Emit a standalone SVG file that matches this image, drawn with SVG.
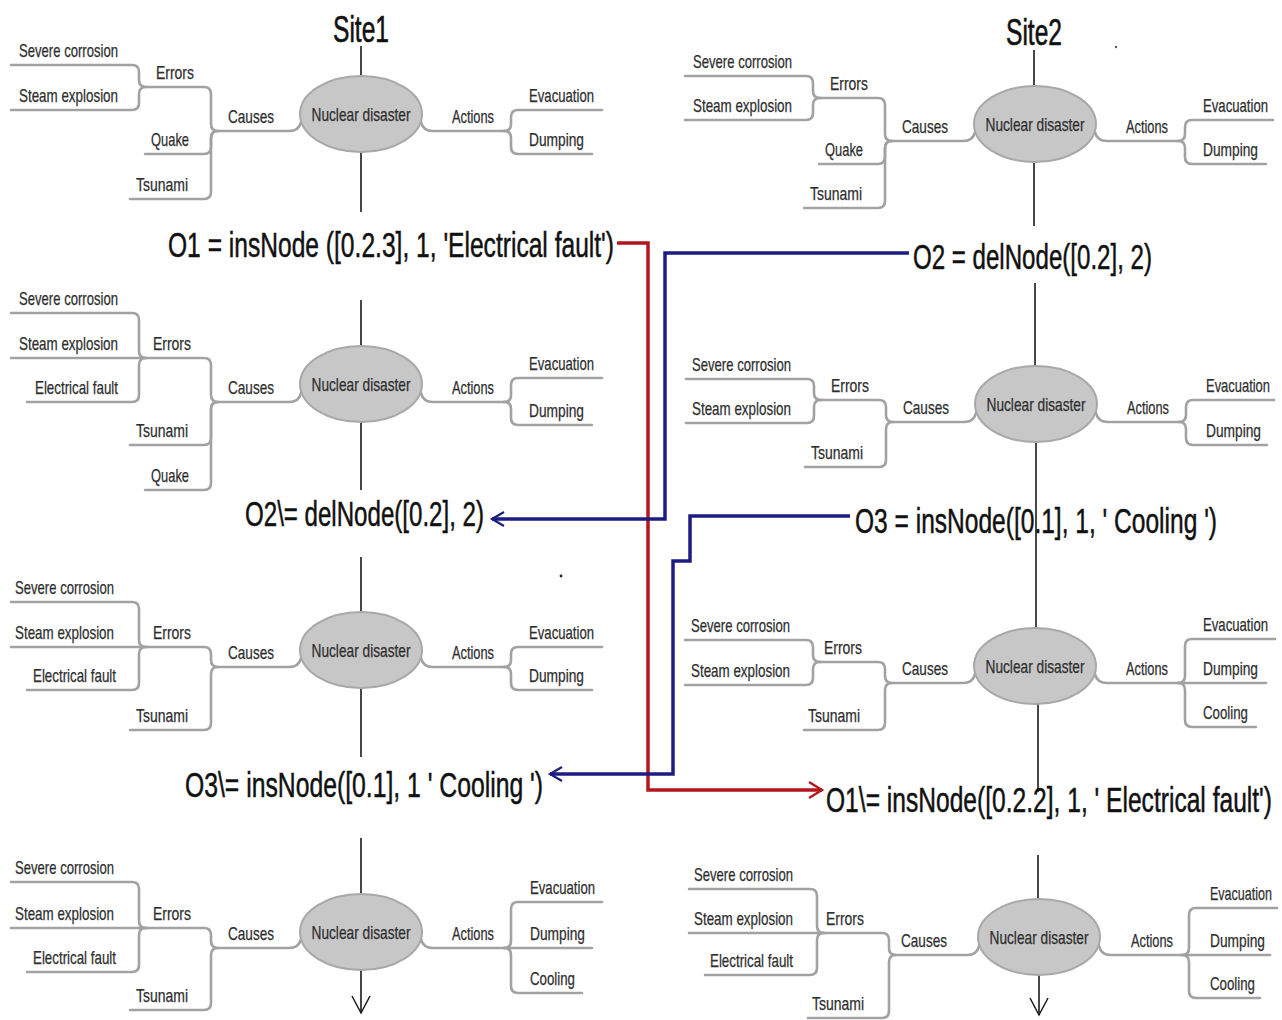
<svg xmlns="http://www.w3.org/2000/svg" width="1282" height="1020" viewBox="0 0 1282 1020">
  <style>
    .lbl { font-family: "Liberation Sans", Arial, sans-serif; font-size: 19px; fill: #2e2e2e; stroke: #2e2e2e; stroke-width: 0.25; }
    .mid { text-anchor: middle; }
    .end { text-anchor: end; }
    .br { fill: none; stroke: #a2a2a2; stroke-width: 2.6; stroke-linecap: round; stroke-linejoin: round; }
    .core { fill: #c7c7c7; stroke: #a8a8a8; stroke-width: 2; }
    .op { font-family: "Liberation Sans", Arial, sans-serif; font-size: 35px; fill: #111; stroke: #111; stroke-width: 0.5; }
    .site { font-family: "Liberation Sans", Arial, sans-serif; font-size: 37px; fill: #111; stroke: #111; stroke-width: 0.6; text-anchor: middle; }
    .stem { stroke: #1a1a1a; stroke-width: 1.6; fill: none; }
    .red { stroke: #b3171c; stroke-width: 3.5; fill: none; }
    .blue { stroke: #1c1c82; stroke-width: 3.5; fill: none; }
  </style>
  <defs>
    <marker id="headBlue" markerUnits="userSpaceOnUse" markerWidth="16" markerHeight="16" refX="12" refY="7" orient="auto" overflow="visible">
      <path d="M0,0 L12,7 L0,14" fill="none" stroke="#1c1c82" stroke-width="2.2"/>
    </marker>
    <marker id="headRed" markerUnits="userSpaceOnUse" markerWidth="18" markerHeight="18" refX="13" refY="8" orient="auto" overflow="visible">
      <path d="M0,0 L13,8 L0,16" fill="none" stroke="#b3171c" stroke-width="2.4"/>
    </marker>
    <marker id="headStem" markerUnits="userSpaceOnUse" markerWidth="20" markerHeight="14" refX="17" refY="9" orient="auto" overflow="visible">
      <path d="M0,0 L17,9 L0,18" fill="none" stroke="#1a1a1a" stroke-width="1.5"/>
    </marker>
  </defs>

  <rect width="1282" height="1020" fill="#ffffff"/>

  <!-- connectors: timeline stems and operation transfer lines -->
  <g id="connectors">
    <path class="stem" d="M361,46 V76"/>
    <path class="stem" d="M361,152 V212"/>
    <path class="stem" d="M361,300 V346"/>
    <path class="stem" d="M361,422 V490"/>
    <path class="stem" d="M361,557 V612"/>
    <path class="stem" d="M361,688 V757"/>
    <path class="stem" d="M361,838 V894"/>
    <path class="stem" d="M361,970 V1013" marker-end="url(#headStem)"/>

    <path class="stem" d="M1034,50 V86"/>
    <path class="stem" d="M1034,162 V226"/>
    <path class="stem" d="M1035,283 V366"/>
    <path class="stem" d="M1036,442 V628"/>
    <path class="stem" d="M1038,704 V792"/>
    <path class="stem" d="M1038,855 V899"/>
    <path class="stem" d="M1039,975 V1015" marker-end="url(#headStem)"/>

    <path class="red" d="M617,243 H648 V790 H822" marker-end="url(#headRed)"/>
    <path class="blue" d="M909,253 H665 V519 H492" marker-end="url(#headBlue)"/>
    <path class="blue" d="M850,516 H690 V561 H673 V774 H550" marker-end="url(#headBlue)"/>
  </g>

  <!-- site headers -->
  <g id="site1"><text class="site" x="361" y="42" textLength="56" lengthAdjust="spacingAndGlyphs">Site1</text></g>
  <g id="site2"><text class="site" x="1034" y="45" textLength="56" lengthAdjust="spacingAndGlyphs">Site2</text></g>

  <!-- operation labels -->
  <g id="op-o1"><text class="op" x="168" y="257" textLength="446" lengthAdjust="spacingAndGlyphs">O1 = insNode ([0.2.3], 1, 'Electrical fault')</text></g>
  <g id="op-o2"><text class="op" x="913" y="269" textLength="239" lengthAdjust="spacingAndGlyphs">O2 = delNode([0.2], 2)</text></g>
  <g id="op-o2t"><text class="op" x="245" y="526" textLength="239" lengthAdjust="spacingAndGlyphs">O2\= delNode([0.2], 2)</text></g>
  <g id="op-o3"><text class="op" x="855" y="533" textLength="362" lengthAdjust="spacingAndGlyphs">O3 = insNode([0.1], 1, ' Cooling ')</text></g>
  <g id="op-o3t"><text class="op" x="185" y="797" textLength="358" lengthAdjust="spacingAndGlyphs">O3\= insNode([0.1], 1 ' Cooling ')</text></g>
  <g id="op-o1t"><text class="op" x="826" y="812" textLength="446" lengthAdjust="spacingAndGlyphs">O1\= insNode([0.2.2], 1, ' Electrical fault')</text></g>

  <!-- stray marks -->
  <circle cx="561" cy="576" r="1.4" fill="#222"/>
  <circle cx="1116" cy="47" r="1.2" fill="#555"/>

  <!-- Site1, state 1 -->
  <g id="map-s1-1" transform="translate(361,114)">
    <path class="br" d="M-142,17 H-72 Q-62,17 -60,8"/>
    <path class="br" d="M-215,-27 H-157 Q-150,-27 -150,-20 V10 Q-150,17 -143,17"/>
    <path class="br" d="M-216,40 H-157 Q-150,40 -150,33 V24 Q-150,17 -143,17"/>
    <path class="br" d="M-231,85 H-157 Q-150,85 -150,78 V24 Q-150,17 -143,17"/>
    <path class="br" d="M-350,-49 H-229 Q-222,-49 -222,-42 V-34 Q-222,-27 -215,-27"/>
    <path class="br" d="M-350,-4 H-229 Q-222,-4 -222,-11 V-20 Q-222,-27 -215,-27"/>
    <path class="br" d="M60,8 Q62,17 72,17 H143"/>
    <path class="br" d="M143,17 Q150,17 150,10 V3 Q150,-4 157,-4 H241"/>
    <path class="br" d="M143,17 Q150,17 150,24 V33 Q150,40 157,40 H231"/>
    <ellipse class="core" cx="0" cy="0" rx="61" ry="38"/>
    <text class="lbl mid" x="0" y="7" textLength="99" lengthAdjust="spacingAndGlyphs">Nuclear disaster</text>
    <text class="lbl mid" x="-110" y="9" textLength="46" lengthAdjust="spacingAndGlyphs">Causes</text>
    <text class="lbl mid" x="-186" y="-35" textLength="38" lengthAdjust="spacingAndGlyphs">Errors</text>
    <text class="lbl end" x="-243" y="-57" textLength="99" lengthAdjust="spacingAndGlyphs">Severe corrosion</text>
    <text class="lbl end" x="-243" y="-12" textLength="99" lengthAdjust="spacingAndGlyphs">Steam explosion</text>
    <text class="lbl end" x="-172" y="32" textLength="38" lengthAdjust="spacingAndGlyphs">Quake</text>
    <text class="lbl end" x="-173" y="77" textLength="52" lengthAdjust="spacingAndGlyphs">Tsunami</text>
    <text class="lbl mid" x="112" y="9" textLength="42" lengthAdjust="spacingAndGlyphs">Actions</text>
    <text class="lbl" x="168" y="-12" textLength="65" lengthAdjust="spacingAndGlyphs">Evacuation</text>
    <text class="lbl" x="168" y="32" textLength="55" lengthAdjust="spacingAndGlyphs">Dumping</text>
  </g>

  <!-- Site2, state 1 -->
  <g id="map-s2-1" transform="translate(1035,124)">
    <path class="br" d="M-142,17 H-72 Q-62,17 -60,8"/>
    <path class="br" d="M-215,-26 H-157 Q-150,-26 -150,-19 V10 Q-150,17 -143,17"/>
    <path class="br" d="M-216,40 H-157 Q-150,40 -150,33 V24 Q-150,17 -143,17"/>
    <path class="br" d="M-231,84 H-157 Q-150,84 -150,77 V24 Q-150,17 -143,17"/>
    <path class="br" d="M-350,-48 H-229 Q-222,-48 -222,-41 V-33 Q-222,-26 -215,-26"/>
    <path class="br" d="M-350,-4 H-229 Q-222,-4 -222,-11 V-19 Q-222,-26 -215,-26"/>
    <path class="br" d="M60,8 Q62,17 72,17 H143"/>
    <path class="br" d="M143,17 Q150,17 150,10 V3 Q150,-4 157,-4 H238"/>
    <path class="br" d="M143,17 Q150,17 150,24 V33 Q150,40 157,40 H231"/>
    <ellipse class="core" cx="0" cy="0" rx="61" ry="38"/>
    <text class="lbl mid" x="0" y="7" textLength="99" lengthAdjust="spacingAndGlyphs">Nuclear disaster</text>
    <text class="lbl mid" x="-110" y="9" textLength="46" lengthAdjust="spacingAndGlyphs">Causes</text>
    <text class="lbl mid" x="-186" y="-34" textLength="38" lengthAdjust="spacingAndGlyphs">Errors</text>
    <text class="lbl end" x="-243" y="-56" textLength="99" lengthAdjust="spacingAndGlyphs">Severe corrosion</text>
    <text class="lbl end" x="-243" y="-12" textLength="99" lengthAdjust="spacingAndGlyphs">Steam explosion</text>
    <text class="lbl end" x="-172" y="32" textLength="38" lengthAdjust="spacingAndGlyphs">Quake</text>
    <text class="lbl end" x="-173" y="76" textLength="52" lengthAdjust="spacingAndGlyphs">Tsunami</text>
    <text class="lbl mid" x="112" y="9" textLength="42" lengthAdjust="spacingAndGlyphs">Actions</text>
    <text class="lbl" x="168" y="-12" textLength="65" lengthAdjust="spacingAndGlyphs">Evacuation</text>
    <text class="lbl" x="168" y="32" textLength="55" lengthAdjust="spacingAndGlyphs">Dumping</text>
  </g>

  <!-- Site1, state 2 -->
  <g id="map-s1-2" transform="translate(361,384)">
    <path class="br" d="M-142,18 H-72 Q-62,18 -60,9"/>
    <path class="br" d="M-215,-26 H-157 Q-150,-26 -150,-19 V11 Q-150,18 -143,18"/>
    <path class="br" d="M-231,61 H-157 Q-150,61 -150,54 V25 Q-150,18 -143,18"/>
    <path class="br" d="M-216,106 H-157 Q-150,106 -150,99 V25 Q-150,18 -143,18"/>
    <path class="br" d="M-350,-71 H-229 Q-222,-71 -222,-64 V-33 Q-222,-26 -215,-26"/>
    <path class="br" d="M-350,-26 H-215"/>
    <path class="br" d="M-334,18 H-229 Q-222,18 -222,11 V-19 Q-222,-26 -215,-26"/>
    <path class="br" d="M60,9 Q62,18 72,18 H143"/>
    <path class="br" d="M143,18 Q150,18 150,11 V1 Q150,-6 157,-6 H241"/>
    <path class="br" d="M143,18 Q150,18 150,25 V34 Q150,41 157,41 H231"/>
    <ellipse class="core" cx="0" cy="0" rx="61" ry="38"/>
    <text class="lbl mid" x="0" y="7" textLength="99" lengthAdjust="spacingAndGlyphs">Nuclear disaster</text>
    <text class="lbl mid" x="-110" y="10" textLength="46" lengthAdjust="spacingAndGlyphs">Causes</text>
    <text class="lbl mid" x="-189" y="-34" textLength="38" lengthAdjust="spacingAndGlyphs">Errors</text>
    <text class="lbl end" x="-243" y="-79" textLength="99" lengthAdjust="spacingAndGlyphs">Severe corrosion</text>
    <text class="lbl end" x="-243" y="-34" textLength="99" lengthAdjust="spacingAndGlyphs">Steam explosion</text>
    <text class="lbl end" x="-243" y="10" textLength="83" lengthAdjust="spacingAndGlyphs">Electrical fault</text>
    <text class="lbl end" x="-173" y="53" textLength="52" lengthAdjust="spacingAndGlyphs">Tsunami</text>
    <text class="lbl end" x="-172" y="98" textLength="38" lengthAdjust="spacingAndGlyphs">Quake</text>
    <text class="lbl mid" x="112" y="10" textLength="42" lengthAdjust="spacingAndGlyphs">Actions</text>
    <text class="lbl" x="168" y="-14" textLength="65" lengthAdjust="spacingAndGlyphs">Evacuation</text>
    <text class="lbl" x="168" y="33" textLength="55" lengthAdjust="spacingAndGlyphs">Dumping</text>
  </g>

  <!-- Site2, state 2 -->
  <g id="map-s2-2" transform="translate(1036,404)">
    <path class="br" d="M-142,18 H-72 Q-62,18 -60,9"/>
    <path class="br" d="M-215,-4 H-157 Q-150,-4 -150,3 V11 Q-150,18 -143,18"/>
    <path class="br" d="M-231,63 H-157 Q-150,63 -150,56 V25 Q-150,18 -143,18"/>
    <path class="br" d="M-350,-25 H-229 Q-222,-25 -222,-18 V-11 Q-222,-4 -215,-4"/>
    <path class="br" d="M-350,19 H-229 Q-222,19 -222,12 V3 Q-222,-4 -215,-4"/>
    <path class="br" d="M60,9 Q62,18 72,18 H143"/>
    <path class="br" d="M143,18 Q150,18 150,11 V3 Q150,-4 157,-4 H238"/>
    <path class="br" d="M143,18 Q150,18 150,25 V34 Q150,41 157,41 H231"/>
    <ellipse class="core" cx="0" cy="0" rx="61" ry="38"/>
    <text class="lbl mid" x="0" y="7" textLength="99" lengthAdjust="spacingAndGlyphs">Nuclear disaster</text>
    <text class="lbl mid" x="-110" y="10" textLength="46" lengthAdjust="spacingAndGlyphs">Causes</text>
    <text class="lbl mid" x="-186" y="-12" textLength="38" lengthAdjust="spacingAndGlyphs">Errors</text>
    <text class="lbl end" x="-245" y="-33" textLength="99" lengthAdjust="spacingAndGlyphs">Severe corrosion</text>
    <text class="lbl end" x="-245" y="11" textLength="99" lengthAdjust="spacingAndGlyphs">Steam explosion</text>
    <text class="lbl end" x="-173" y="55" textLength="52" lengthAdjust="spacingAndGlyphs">Tsunami</text>
    <text class="lbl mid" x="112" y="10" textLength="42" lengthAdjust="spacingAndGlyphs">Actions</text>
    <text class="lbl" x="170" y="-12" textLength="64" lengthAdjust="spacingAndGlyphs">Evacuation</text>
    <text class="lbl" x="170" y="33" textLength="55" lengthAdjust="spacingAndGlyphs">Dumping</text>
  </g>

  <!-- Site1, state 3 -->
  <g id="map-s1-3" transform="translate(361,650)">
    <path class="br" d="M-142,17 H-72 Q-62,17 -60,8"/>
    <path class="br" d="M-215,-3 H-157 Q-150,-3 -150,4 V10 Q-150,17 -143,17"/>
    <path class="br" d="M-231,80 H-157 Q-150,80 -150,73 V24 Q-150,17 -143,17"/>
    <path class="br" d="M-350,-48 H-229 Q-222,-48 -222,-41 V-10 Q-222,-3 -215,-3"/>
    <path class="br" d="M-350,-3 H-215"/>
    <path class="br" d="M-334,40 H-229 Q-222,40 -222,33 V4 Q-222,-3 -215,-3"/>
    <path class="br" d="M60,8 Q62,17 72,17 H143"/>
    <path class="br" d="M143,17 Q150,17 150,10 V4 Q150,-3 157,-3 H241"/>
    <path class="br" d="M143,17 Q150,17 150,24 V33 Q150,40 157,40 H231"/>
    <ellipse class="core" cx="0" cy="0" rx="61" ry="38"/>
    <text class="lbl mid" x="0" y="7" textLength="99" lengthAdjust="spacingAndGlyphs">Nuclear disaster</text>
    <text class="lbl mid" x="-110" y="9" textLength="46" lengthAdjust="spacingAndGlyphs">Causes</text>
    <text class="lbl mid" x="-189" y="-11" textLength="38" lengthAdjust="spacingAndGlyphs">Errors</text>
    <text class="lbl end" x="-247" y="-56" textLength="99" lengthAdjust="spacingAndGlyphs">Severe corrosion</text>
    <text class="lbl end" x="-247" y="-11" textLength="99" lengthAdjust="spacingAndGlyphs">Steam explosion</text>
    <text class="lbl end" x="-245" y="32" textLength="83" lengthAdjust="spacingAndGlyphs">Electrical fault</text>
    <text class="lbl end" x="-173" y="72" textLength="52" lengthAdjust="spacingAndGlyphs">Tsunami</text>
    <text class="lbl mid" x="112" y="9" textLength="42" lengthAdjust="spacingAndGlyphs">Actions</text>
    <text class="lbl" x="168" y="-11" textLength="65" lengthAdjust="spacingAndGlyphs">Evacuation</text>
    <text class="lbl" x="168" y="32" textLength="55" lengthAdjust="spacingAndGlyphs">Dumping</text>
  </g>

  <!-- Site2, state 3 -->
  <g id="map-s2-3" transform="translate(1035,666)">
    <path class="br" d="M-142,17 H-72 Q-62,17 -60,8"/>
    <path class="br" d="M-215,-4 H-157 Q-150,-4 -150,3 V10 Q-150,17 -143,17"/>
    <path class="br" d="M-231,64 H-157 Q-150,64 -150,57 V24 Q-150,17 -143,17"/>
    <path class="br" d="M-350,-26 H-229 Q-222,-26 -222,-19 V-11 Q-222,-4 -215,-4"/>
    <path class="br" d="M-350,19 H-229 Q-222,19 -222,12 V3 Q-222,-4 -215,-4"/>
    <path class="br" d="M60,8 Q62,17 72,17 H143"/>
    <path class="br" d="M143,17 Q150,17 150,10 V-20 Q150,-27 157,-27 H240"/>
    <path class="br" d="M143,17 H231"/>
    <path class="br" d="M143,17 Q150,17 150,24 V54 Q150,61 157,61 H221"/>
    <ellipse class="core" cx="0" cy="0" rx="61" ry="38"/>
    <text class="lbl mid" x="0" y="7" textLength="99" lengthAdjust="spacingAndGlyphs">Nuclear disaster</text>
    <text class="lbl mid" x="-110" y="9" textLength="46" lengthAdjust="spacingAndGlyphs">Causes</text>
    <text class="lbl mid" x="-192" y="-12" textLength="38" lengthAdjust="spacingAndGlyphs">Errors</text>
    <text class="lbl end" x="-245" y="-34" textLength="99" lengthAdjust="spacingAndGlyphs">Severe corrosion</text>
    <text class="lbl end" x="-245" y="11" textLength="99" lengthAdjust="spacingAndGlyphs">Steam explosion</text>
    <text class="lbl end" x="-175" y="56" textLength="52" lengthAdjust="spacingAndGlyphs">Tsunami</text>
    <text class="lbl mid" x="112" y="9" textLength="42" lengthAdjust="spacingAndGlyphs">Actions</text>
    <text class="lbl" x="168" y="-35" textLength="65" lengthAdjust="spacingAndGlyphs">Evacuation</text>
    <text class="lbl" x="168" y="9" textLength="55" lengthAdjust="spacingAndGlyphs">Dumping</text>
    <text class="lbl" x="168" y="53" textLength="45" lengthAdjust="spacingAndGlyphs">Cooling</text>
  </g>

  <!-- Site1, state 4 -->
  <g id="map-s1-4" transform="translate(361,932)">
    <path class="br" d="M-142,16 H-72 Q-62,16 -60,7"/>
    <path class="br" d="M-215,-4 H-157 Q-150,-4 -150,3 V9 Q-150,16 -143,16"/>
    <path class="br" d="M-231,78 H-157 Q-150,78 -150,71 V23 Q-150,16 -143,16"/>
    <path class="br" d="M-350,-50 H-229 Q-222,-50 -222,-43 V-11 Q-222,-4 -215,-4"/>
    <path class="br" d="M-350,-4 H-215"/>
    <path class="br" d="M-334,40 H-229 Q-222,40 -222,33 V3 Q-222,-4 -215,-4"/>
    <path class="br" d="M60,7 Q62,16 72,16 H143"/>
    <path class="br" d="M143,16 Q150,16 150,9 V-23 Q150,-30 157,-30 H241"/>
    <path class="br" d="M143,16 H231"/>
    <path class="br" d="M143,16 Q150,16 150,23 V54 Q150,61 157,61 H221"/>
    <ellipse class="core" cx="0" cy="0" rx="61" ry="38"/>
    <text class="lbl mid" x="0" y="7" textLength="99" lengthAdjust="spacingAndGlyphs">Nuclear disaster</text>
    <text class="lbl mid" x="-110" y="8" textLength="46" lengthAdjust="spacingAndGlyphs">Causes</text>
    <text class="lbl mid" x="-189" y="-12" textLength="38" lengthAdjust="spacingAndGlyphs">Errors</text>
    <text class="lbl end" x="-247" y="-58" textLength="99" lengthAdjust="spacingAndGlyphs">Severe corrosion</text>
    <text class="lbl end" x="-247" y="-12" textLength="99" lengthAdjust="spacingAndGlyphs">Steam explosion</text>
    <text class="lbl end" x="-245" y="32" textLength="83" lengthAdjust="spacingAndGlyphs">Electrical fault</text>
    <text class="lbl end" x="-173" y="70" textLength="52" lengthAdjust="spacingAndGlyphs">Tsunami</text>
    <text class="lbl mid" x="112" y="8" textLength="42" lengthAdjust="spacingAndGlyphs">Actions</text>
    <text class="lbl" x="169" y="-38" textLength="65" lengthAdjust="spacingAndGlyphs">Evacuation</text>
    <text class="lbl" x="169" y="8" textLength="55" lengthAdjust="spacingAndGlyphs">Dumping</text>
    <text class="lbl" x="169" y="53" textLength="45" lengthAdjust="spacingAndGlyphs">Cooling</text>
  </g>

  <!-- Site2, state 4 -->
  <g id="map-s2-4" transform="translate(1039,937)">
    <path class="br" d="M-142,18 H-72 Q-62,18 -60,9"/>
    <path class="br" d="M-215,-4 H-157 Q-150,-4 -150,3 V11 Q-150,18 -143,18"/>
    <path class="br" d="M-231,81 H-157 Q-150,81 -150,74 V25 Q-150,18 -143,18"/>
    <path class="br" d="M-350,-48 H-229 Q-222,-48 -222,-41 V-11 Q-222,-4 -215,-4"/>
    <path class="br" d="M-350,-4 H-215"/>
    <path class="br" d="M-334,38 H-229 Q-222,38 -222,31 V3 Q-222,-4 -215,-4"/>
    <path class="br" d="M60,9 Q62,18 72,18 H143"/>
    <path class="br" d="M143,18 Q150,18 150,11 V-22 Q150,-29 157,-29 H238"/>
    <path class="br" d="M143,18 H231"/>
    <path class="br" d="M143,18 Q150,18 150,25 V54 Q150,61 157,61 H221"/>
    <ellipse class="core" cx="0" cy="0" rx="61" ry="38"/>
    <text class="lbl mid" x="0" y="7" textLength="99" lengthAdjust="spacingAndGlyphs">Nuclear disaster</text>
    <text class="lbl mid" x="-115" y="10" textLength="46" lengthAdjust="spacingAndGlyphs">Causes</text>
    <text class="lbl mid" x="-194" y="-12" textLength="38" lengthAdjust="spacingAndGlyphs">Errors</text>
    <text class="lbl end" x="-246" y="-56" textLength="99" lengthAdjust="spacingAndGlyphs">Severe corrosion</text>
    <text class="lbl end" x="-246" y="-12" textLength="99" lengthAdjust="spacingAndGlyphs">Steam explosion</text>
    <text class="lbl end" x="-246" y="30" textLength="83" lengthAdjust="spacingAndGlyphs">Electrical fault</text>
    <text class="lbl end" x="-175" y="73" textLength="52" lengthAdjust="spacingAndGlyphs">Tsunami</text>
    <text class="lbl mid" x="113" y="10" textLength="42" lengthAdjust="spacingAndGlyphs">Actions</text>
    <text class="lbl" x="171" y="-37" textLength="62" lengthAdjust="spacingAndGlyphs">Evacuation</text>
    <text class="lbl" x="171" y="10" textLength="55" lengthAdjust="spacingAndGlyphs">Dumping</text>
    <text class="lbl" x="171" y="53" textLength="45" lengthAdjust="spacingAndGlyphs">Cooling</text>
  </g>
</svg>
